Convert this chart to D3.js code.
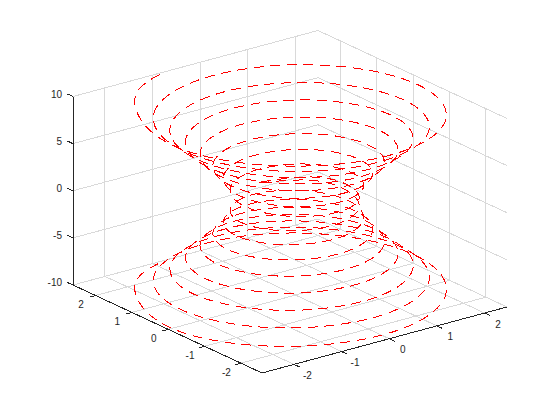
<!DOCTYPE html>
<html><head><meta charset="utf-8">
<script src="https://cdn.jsdelivr.net/npm/d3@7/dist/d3.min.js"></script>
<style>html,body{margin:0;padding:0;background:#fff}svg{display:block}</style>
</head><body><svg id="c" width="560" height="420"></svg>
<script>
const xTicks=[-2,-1,0,1,2];
const yTicks=[-2,-1,0,1,2];
const zTicks=[-10,-5,0,5,10];
const xLim=[-2.67,2.47];
const yLim=[-2.58,2.62];
const zLim=[-10,10];
const helixZ=[10,9.896,9.739,9.582,9.425,9.268,9.111,8.954,8.796,8.639,8.482,8.325,8.168,8.011,7.854,7.697,7.540,7.383,7.226,7.069,6.912,6.754,6.597,6.440,6.283,6.126,5.969,5.812,5.655,5.498,5.341,5.184,5.027,4.869,4.712,4.555,4.398,4.241,4.084,3.927,3.770,3.613,3.456,3.299,3.142,2.985,2.827,2.670,2.513,2.356,2.199,2.042,1.885,1.728,1.571,1.414,1.257,1.100,0.942,0.785,0.628,0.471,0.314,0.157,0,
-0.157,-0.314,-0.471,-0.628,-0.785,-0.942,-1.100,-1.257,-1.414,-1.571,-1.728,-1.885,-2.042,-2.199,-2.356,-2.513,-2.670,-2.827,-2.985,-3.142,-3.299,-3.456,-3.613,-3.770,-3.927,-4.084,-4.241,-4.398,-4.555,-4.712,-4.869,-5.027,-5.184,-5.341,-5.498,-5.655,-5.812,-5.969,-6.126,-6.283,-6.440,-6.597,-6.754,-6.912,-7.069,-7.226,-7.383,-7.540,-7.697,-7.854,-8.011,-8.168,-8.325,-8.482,-8.639,-8.796,-8.954,-9.111,-9.268,-9.425,-9.582,-9.739,-9.896,-10];
const helixR=[2.72,2.705,2.665,2.62,2.57,2.525,2.487,2.452,2.416,2.380,2.345,2.309,2.274,2.239,2.204,2.169,2.136,2.102,2.069,2.035,2.002,1.970,1.938,1.905,1.873,1.841,1.810,1.779,1.748,1.718,1.687,1.657,1.628,1.598,1.570,1.542,1.513,1.487,1.459,1.433,1.407,1.383,1.358,1.334,1.311,1.289,1.268,1.246,1.226,1.208,1.189,1.173,1.156,1.141,1.128,1.116,1.104,1.094,1.085,1.077,1.071,1.066,1.063,1.059,1.058,
1.059,1.063,1.066,1.071,1.077,1.085,1.094,1.104,1.116,1.128,1.141,1.156,1.173,1.189,1.208,1.226,1.246,1.268,1.289,1.311,1.334,1.358,1.383,1.407,1.433,1.459,1.487,1.513,1.542,1.570,1.598,1.628,1.657,1.687,1.718,1.748,1.779,1.810,1.841,1.873,1.905,1.938,1.970,2.002,2.035,2.069,2.102,2.136,2.169,2.204,2.239,2.274,2.309,2.345,2.380,2.416,2.452,2.487,2.525,2.57,2.62,2.665,2.705,2.72];
const helixAngle=[-2771,-2745,-2700,-2655,-2610,-2565,-2520,-2475,-2430,-2385,-2340,-2295,-2250,-2205,-2160,-2115,-2070,-2025,-1980,-1935,-1890,-1845,-1800,-1755,-1710,-1665,-1620,-1575,-1530,-1485,-1440,-1395,-1350,-1305,-1260,-1215,-1170,-1125,-1080,-1035,-990,-945,-900,-855,-810,-765,-720,-675,-630,-585,-540,-495,-450,-405,-360,-315,-270,-225,-180,-135,-90,-45,0,45,90,
45,0,-45,-90,-135,-180,-225,-270,-315,-360,-405,-450,-495,-540,-585,-630,-675,-720,-765,-810,-855,-900,-945,-990,-1035,-1080,-1125,-1170,-1215,-1260,-1305,-1350,-1395,-1440,-1485,-1530,-1575,-1620,-1665,-1710,-1755,-1800,-1845,-1890,-1935,-1980,-2025,-2070,-2115,-2160,-2205,-2250,-2295,-2340,-2385,-2430,-2475,-2520,-2565,-2610,-2655,-2700,-2745,-2771];

const front={x:262,y:373}, right={x:507,y:307}, left={x:73,y:285};
const sx=d3.scaleLinear().domain(xLim).range([0,1]);
const sy=d3.scaleLinear().domain(yLim).range([0,1]);
const sz=d3.scaleLinear().domain(zLim).range([0,-188.5]);
const P=(x,y,z)=>[
  front.x+sx(x)*(right.x-front.x)+sy(y)*(left.x-front.x),
  front.y+sx(x)*(right.y-front.y)+sy(y)*(left.y-front.y)+sz(z)];
const svg=d3.select('#c');
const seg=(g,a,b,col)=>g.append('line').attr('x1',a[0]).attr('y1',a[1]).attr('x2',b[0]).attr('y2',b[1]).attr('stroke',col).attr('stroke-width',1).attr('shape-rendering','crispEdges');
const grid=svg.append('g');
const GC='#d9d9d9', AC='#262626';
const [x0,x1]=xLim,[y0,y1]=yLim,[z0,z1]=zLim;
xTicks.forEach(t=>{seg(grid,P(t,y0,z0),P(t,y1,z0),GC);seg(grid,P(t,y1,z0),P(t,y1,z1),GC);});
yTicks.forEach(t=>{seg(grid,P(x0,t,z0),P(x1,t,z0),GC);seg(grid,P(x1,t,z0),P(x1,t,z1),GC);});
zTicks.forEach(t=>{seg(grid,P(x0,y1,t),P(x1,y1,t),GC);seg(grid,P(x1,y1,t),P(x1,y0,t),GC);});
const ax=svg.append('g');
seg(ax,P(x0,y1,z0),P(x0,y1,z1),AC);
seg(ax,P(x0,y1,z0),P(x0,y0,z0),AC);
seg(ax,P(x0,y0,z0),P(x1,y0,z0),AC);
const txt=(p,s,anchor)=>svg.append('text').attr('x',p[0]).attr('y',p[1]).attr('text-anchor',anchor).attr('dominant-baseline','central').attr('font-family','"Liberation Sans",sans-serif').attr('font-size',10).attr('fill',AC).text(s);
xTicks.forEach(t=>{const a=P(t,y0,z0);seg(ax,a,[a[0]+5.4,a[1]+2.5],AC);txt([a[0]+13.4,a[1]+11],t,'middle');});
yTicks.forEach(t=>{const a=P(x0,t,z0);seg(ax,a,[a[0]-5.7,a[1]+1.5],AC);txt([a[0]-14.5,a[1]+9],t,'middle');});
zTicks.forEach(t=>{const a=P(x0,y1,t);seg(ax,a,[a[0]-5.5,a[1]-2.5],AC);txt([a[0]-11,a[1]-2.5],t,'end');});
const pts=helixZ.map((z,i)=>{const a=helixAngle[i]*Math.PI/180,r=helixR[i];return P(r*Math.cos(a),r*Math.sin(a),z);});
svg.append('path').attr('d',d3.line().curve(d3.curveNatural)(pts)).attr('fill','none').attr('stroke','#f00').attr('stroke-width',1).attr('stroke-dasharray','10 6.5').attr('shape-rendering','crispEdges');
</script></body></html>
